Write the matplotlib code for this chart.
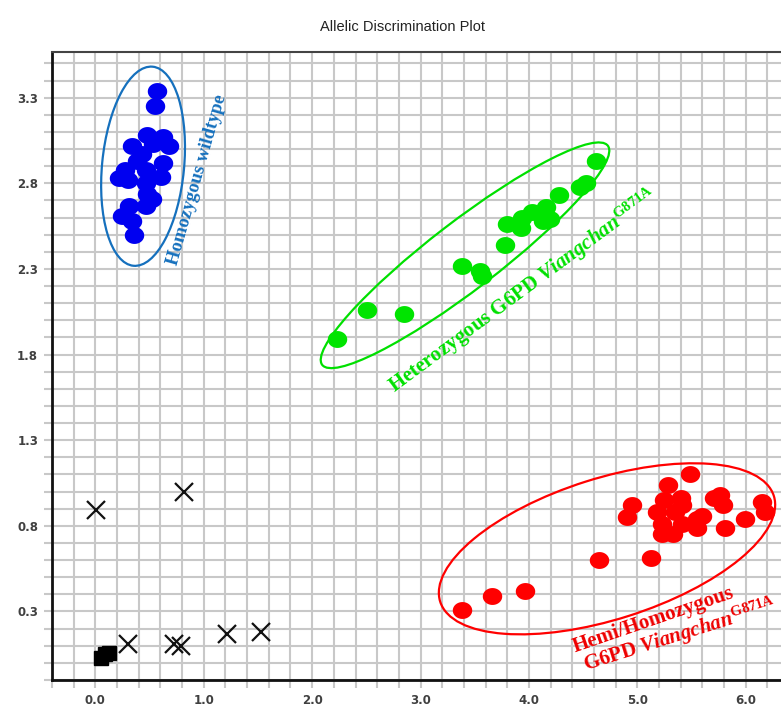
import numpy as np
import matplotlib
matplotlib.use("Agg")
import matplotlib.pyplot as plt
from matplotlib.patches import Ellipse
from matplotlib.path import Path
from matplotlib.transforms import ScaledTranslation
from matplotlib.ticker import FixedLocator, FuncFormatter

# allele X / allele Y fluorescence per sample
wild_x = [0.57, 0.55, 0.48, 0.62, 0.68, 0.34, 0.53, 0.43, 0.38, 0.62, 0.27, 0.47,
          0.61, 0.22, 0.30, 0.47, 0.48, 0.52, 0.31, 0.47, 0.25, 0.34, 0.36]
wild_y = [3.34, 3.25, 3.08, 3.07, 3.02, 3.02, 3.03, 2.97, 2.93, 2.92, 2.88, 2.88,
          2.84, 2.83, 2.82, 2.80, 2.74, 2.71, 2.67, 2.67, 2.61, 2.58, 2.50]

het_x = [4.62, 4.53, 4.47, 4.28, 4.16, 4.03, 3.94, 4.19, 4.13, 3.80, 3.93, 3.78,
         3.38, 3.55, 3.57, 2.85, 2.51, 2.23]
het_y = [2.93, 2.80, 2.78, 2.73, 2.66, 2.63, 2.60, 2.59, 2.58, 2.56, 2.54, 2.44,
         2.32, 2.29, 2.26, 2.04, 2.06, 1.89]

hemi_x = [5.49, 5.28, 5.76, 5.71, 5.25, 5.40, 4.95, 6.15, 5.79, 5.41, 5.18, 5.35,
          6.18, 5.60, 5.55, 4.90, 5.99, 5.23, 5.41, 5.55, 5.81, 5.23, 5.33, 5.13,
          4.65, 3.96, 3.66, 3.38]
hemi_y = [1.10, 1.04, 0.98, 0.96, 0.95, 0.96, 0.92, 0.94, 0.92, 0.92, 0.88, 0.88,
          0.88, 0.86, 0.84, 0.85, 0.84, 0.81, 0.81, 0.79, 0.79, 0.75, 0.75, 0.61,
          0.60, 0.42, 0.39, 0.31]

undet_x = [0.01, 0.82, 0.30, 0.73, 0.79, 1.21, 1.53]
undet_y = [0.89, 1.00, 0.11, 0.11, 0.10, 0.17, 0.18]

ntc_x = [0.05, 0.09, 0.13]
ntc_y = [0.03, 0.05, 0.06]

plt.rcParams['mathtext.fontset'] = 'custom'
plt.rcParams['mathtext.rm'] = 'Liberation Serif:bold'
plt.rcParams['mathtext.it'] = 'Liberation Serif:italic:bold'
plt.rcParams['mathtext.bf'] = 'Liberation Serif:bold'

fig = plt.figure(figsize=(7.81, 7.08), dpi=100)
ax = fig.add_axes([52 / 781, 28 / 708, 1 - 52 / 781, 628 / 708])
ax.set_xlim(-0.4, 6.325)
ax.set_ylim(-0.1, 3.567)

# slightly flattened dot used for the called genotypes
t = np.linspace(0, 2 * np.pi, 60)
dot = Path(np.column_stack([1.15 * np.cos(t), np.sin(t)]), closed=True)

ax.plot(wild_x, wild_y, ls='none', marker=dot, ms=14, color='#0000f0', mec='none')
ax.plot(het_x, het_y, ls='none', marker=dot, ms=14, color='#00e400', mec='none')
ax.plot(hemi_x, hemi_y, ls='none', marker=dot, ms=14, color='#ff0000', mec='none')
ax.plot(undet_x, undet_y, ls='none', marker='x', ms=13, mew=1.6, color='#111111')
ax.plot(ntc_x, ntc_y, ls='none', marker='s', ms=10, color='black')


def ring(cx, cy, w, h, angle, color):
    # w, h given in pixels, centred on a data point
    tr = fig.dpi_scale_trans + ScaledTranslation(cx, cy, ax.transData)
    ax.add_patch(Ellipse((0, 0), w / 100, h / 100, angle=angle, transform=tr,
                         fill=False, ec=color, lw=1.6, clip_on=False))


ring(0.44, 2.90, 82, 200, -5.5, '#1570bd')
ring(3.41, 2.38, 360, 68, 37.5, '#00e000')
ring(4.72, 0.666, 350, 141, 17.6, '#ff0000')

serif = dict(family='Liberation Serif', weight='bold', ha='center', va='center',
             rotation_mode='anchor', clip_on=False)
ax.text(0.94, 2.82, 'Homozygous wildtype', color='#1570bd', fontsize=13.5,
        rotation=74, **serif)
ax.text(3.95, 2.17, r'Heterozygous G6PD $\mathit{Viangchan}^{\mathrm{G871A}}$',
        color='#00e000', fontsize=15, rotation=36.5, **serif)
ax.text(5.15, 0.253, 'Hemi/Homozygous', color='#ee0000', fontsize=15,
        rotation=19, **serif)
ax.text(5.39, 0.16, r'G6PD $\mathit{Viangchan}^{\mathrm{G871A}}$', color='#ee0000',
        fontsize=15, rotation=17.5, **serif)

# grid every 0.2 on x and 0.1 on y, labels only on the coarse steps
xt = np.round(np.arange(-0.4, 6.33, 0.2), 1)
yt = np.round(np.arange(-0.1, 3.56, 0.1), 1)
ax.xaxis.set_major_locator(FixedLocator(xt))
ax.yaxis.set_major_locator(FixedLocator(yt))
ax.xaxis.set_major_formatter(FuncFormatter(
    lambda v, p: f'{v:.1f}' if abs(v - round(v)) < 1e-6 and v > -0.05 else ''))
ax.yaxis.set_major_formatter(FuncFormatter(
    lambda v, p: f'{v:.1f}' if abs(((v - 0.3) / 0.5) - round((v - 0.3) / 0.5)) < 1e-6 else ''))
ax.grid(True, color='#c8c8c8', lw=1.5)
ax.set_axisbelow(True)
ax.tick_params(length=6, width=1.5, color='#c8c8c8', labelsize=8.5,
               labelcolor='#404040', pad=4)
for lab in ax.get_xticklabels() + ax.get_yticklabels():
    lab.set_fontweight('bold')

ax.spines['right'].set_visible(False)
ax.spines['left'].set_linewidth(2)
ax.spines['bottom'].set_linewidth(2)
ax.spines['left'].set_color('#111111')
ax.spines['bottom'].set_color('#111111')
ax.spines['top'].set_linewidth(1.5)
ax.spines['top'].set_color('#444444')

fig.text(402 / 781, 1 - 27 / 708, 'Allelic Discrimination Plot', ha='center', va='center',
         fontsize=10.5, family=['Liberation Sans Narrow', 'Liberation Sans'], color='#222222')

fig.savefig('out.png', dpi=100)
